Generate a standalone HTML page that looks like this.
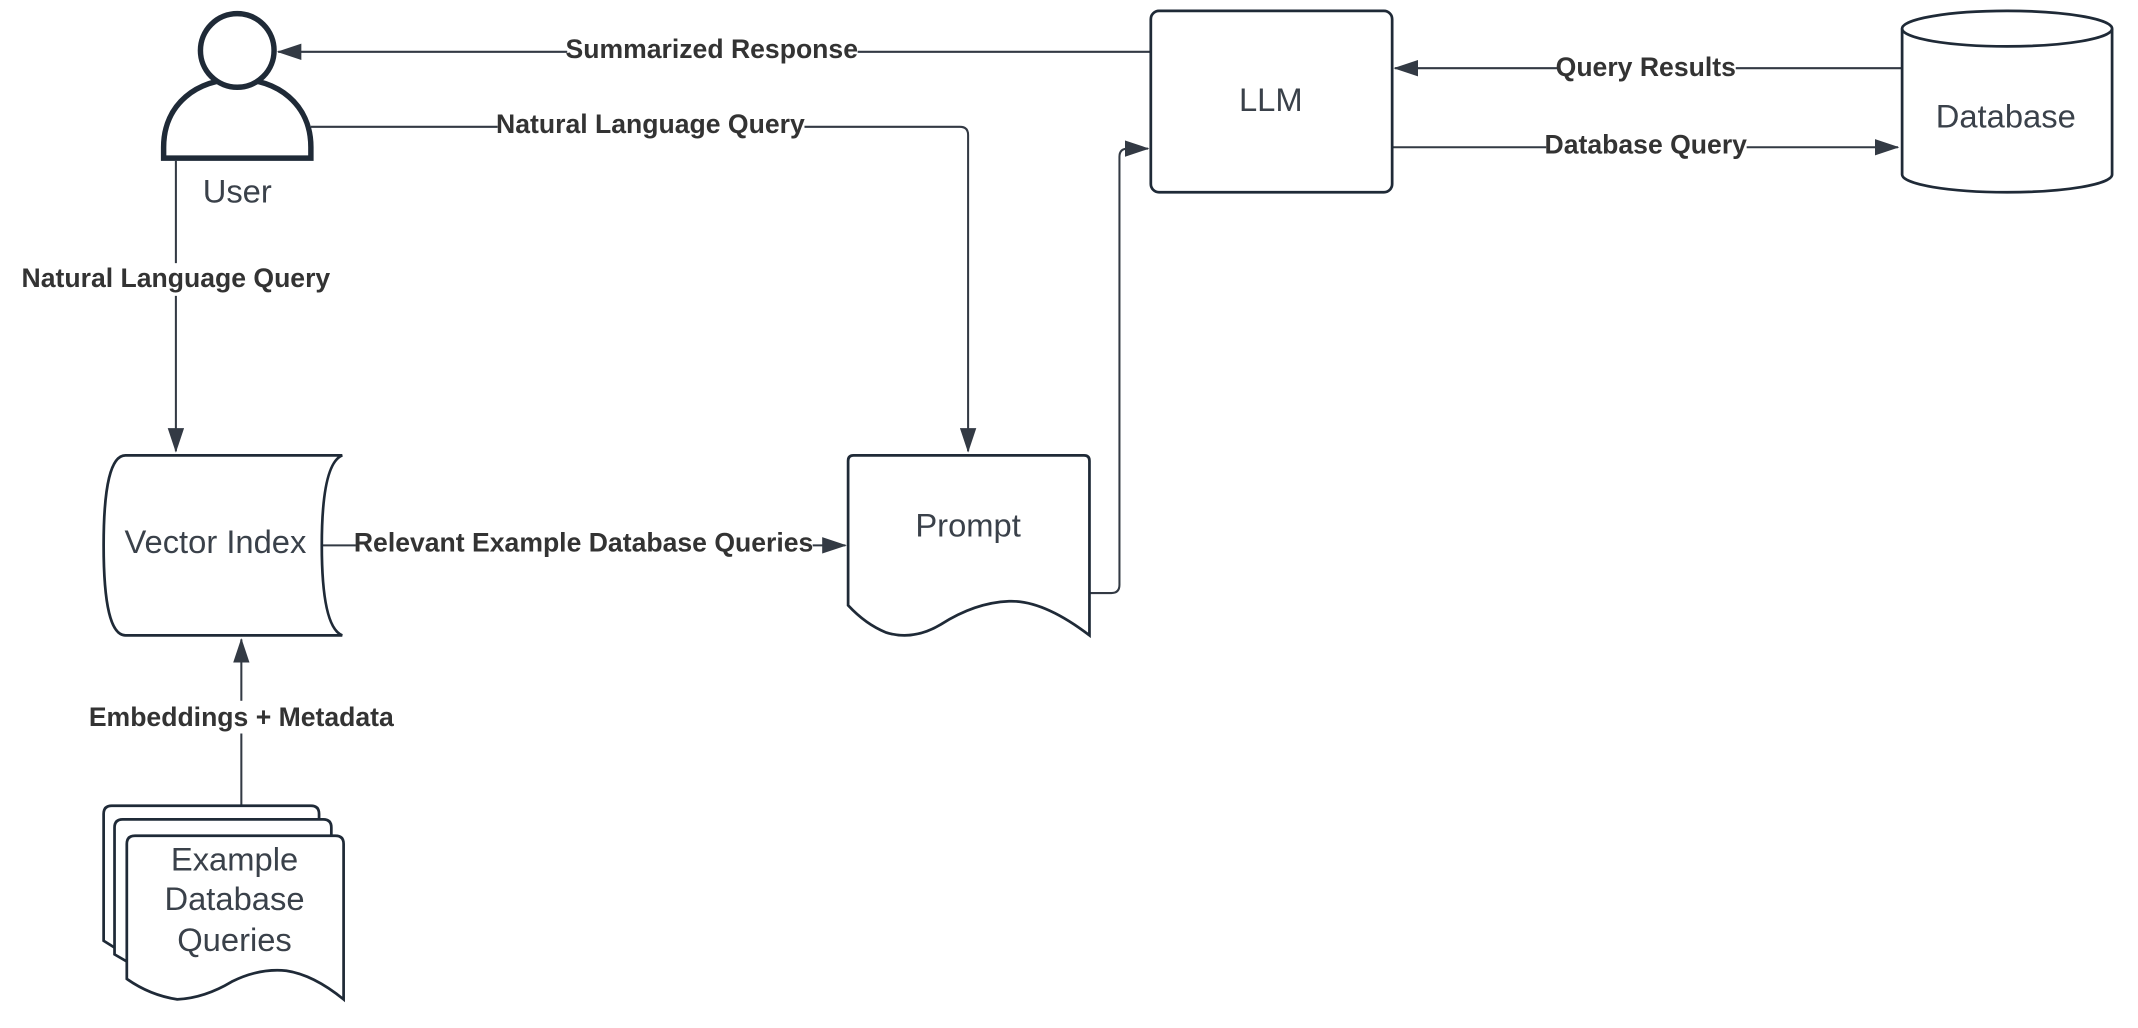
<!DOCTYPE html>
<html><head><meta charset="utf-8"><style>
html,body{margin:0;padding:0;background:#fff;}
svg{display:block;}
.l{font-family:"Liberation Sans",sans-serif;font-weight:bold;font-size:19.5px;fill:#333;text-anchor:middle;dominant-baseline:central;}
.n{font-family:"Liberation Sans",sans-serif;font-size:24px;fill:#3a414a;text-anchor:middle;dominant-baseline:central;}
.bg{fill:#fff;}
</style></head><body>
<svg width="2138" height="1028" viewBox="0 0 1568 754" preserveAspectRatio="none" xmlns="http://www.w3.org/2000/svg">
<defs>
<marker id="b" markerWidth="18" markerHeight="12" refX="17" refY="6" orient="auto" markerUnits="userSpaceOnUse">
<path d="M0,0 L18,6 L0,12 z" fill="#333a44"/></marker>
</defs>
<g fill="none" stroke="#333a44" stroke-width="1.5">
<line x1="844" y1="38" x2="204" y2="38" marker-end="url(#b)"/>
<path d="M228,93 H704 Q710,93 710,99 V331" marker-end="url(#b)"/>
<line x1="129" y1="118" x2="129" y2="331" marker-end="url(#b)"/>
<line x1="234" y1="400" x2="620" y2="400" marker-end="url(#b)"/>
<path d="M799,435 H815 Q821,435 821,429 V115 Q821,109 827,109 H842" marker-end="url(#b)"/>
<line x1="1395" y1="50" x2="1023" y2="50" marker-end="url(#b)"/>
<line x1="1021" y1="108" x2="1392" y2="108" marker-end="url(#b)"/>
<line x1="177" y1="591" x2="177" y2="469" marker-end="url(#b)"/>
</g>
<g fill="#fff" stroke="#1f2a37" stroke-width="2">
<path d="M120,116 V108 C120,76 145,58 174,58 C203,58 228,76 228,108 V116 Z" stroke-width="4"/>
<circle cx="174" cy="37" r="27" stroke-width="4"/>
<path d="M92,334 H251 Q236,340 236,400 Q236,460 251,466 H92 Q76,466 76,400 Q76,334 92,334 Z"/>
<path d="M626,334 H795 Q799,334 799,338 V466 Q765,440 740,441 Q715,442 690,458 Q670,470 650,464 Q635,458 622,444 V338 Q622,334 626,334 Z"/>
<rect x="844" y="8" width="177" height="133" rx="6"/>
<path d="M1395,21 V128 A77,13 0 0 0 1549,128 V21"/>
<ellipse cx="1472" cy="21" rx="77" ry="13"/>
<path d="M82,591 H228 Q234,591 234,597 V705 Q200,690 170,700 Q130,720 100,705 L76,690 V597 Q76,591 82,591 Z"/>
<path d="M90,601 H237 Q243,601 243,607 V715 Q210,700 180,710 Q140,728 110,715 L84,700 V607 Q84,601 90,601 Z"/>
<path d="M99,613 H246 Q252,613 252,619 V733 Q230,715 210,712 Q190,710 170,720 Q150,732 130,733 Q110,730 93,718 V619 Q93,613 99,613 Z"/>
</g>
<g>
<rect class="bg" x="416" y="26" width="213" height="22"/>
<text class="l" x="522" y="36">Summarized Response</text>
<rect class="bg" x="365" y="80" width="225" height="22"/>
<text class="l" x="477" y="91">Natural Language Query</text>
<rect class="bg" x="17" y="193" width="225" height="24"/>
<text class="l" x="129" y="204">Natural Language Query</text>
<rect class="bg" x="261" y="388" width="335" height="22"/>
<text class="l" x="428" y="398">Relevant Example Database Queries</text>
<rect class="bg" x="1142" y="38" width="131" height="22"/>
<text class="l" x="1207" y="49">Query Results</text>
<rect class="bg" x="1134" y="95" width="147" height="22"/>
<text class="l" x="1207" y="106">Database Query</text>
<rect class="bg" x="66" y="514" width="222" height="24"/>
<text class="l" x="177" y="526">Embeddings + Metadata</text>
<text class="n" x="174" y="140">User</text>
<text class="n" x="158" y="397">Vector Index</text>
<text class="n" x="710" y="385">Prompt</text>
<text class="n" x="932" y="73">LLM</text>
<text class="n" x="1471" y="85">Database</text>
<text class="n" x="172" y="630">Example</text>
<text class="n" x="172" y="659">Database</text>
<text class="n" x="172" y="689">Queries</text>
</g>
</svg>
</body></html>
